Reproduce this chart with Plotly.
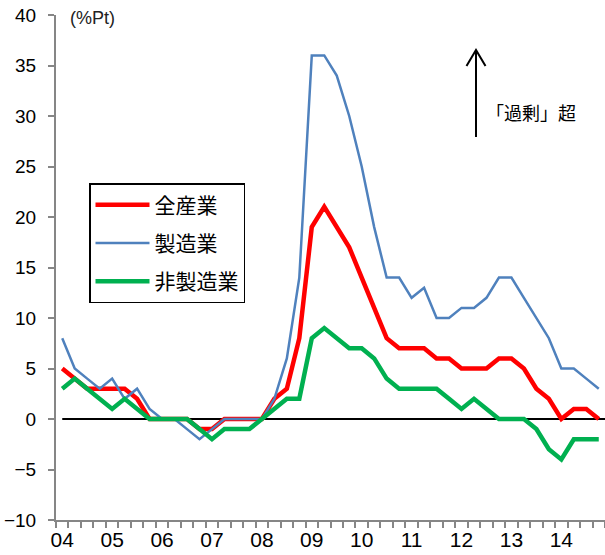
import plotly.graph_objects as go

# Quarterly periods 2004Q1 .. 2014Q4
quarters = [f"{y}Q{q}" for y in range(2004, 2015) for q in range(1, 5)]
year_labels = [f"{y % 100:02d}" if q == 1 else "" for y in range(2004, 2015) for q in range(1, 5)]

# Excess-minus-shortage balance (%Pt)
all_industries = [5, 4, 3, 3, 3, 3, 2, 0, 0, 0, 0, -1, -1, 0, 0, 0, 0, 2, 3, 8,
                  19, 21, 19, 17, 14, 11, 8, 7, 7, 7, 6, 6, 5, 5, 5, 6, 6, 5, 3, 2,
                  0, 1, 1, 0]
manufacturing = [8, 5, 4, 3, 4, 2, 3, 1, 0, 0, -1, -2, -1, 0, 0, 0, 0, 2, 6, 14,
                 36, 36, 34, 30, 25, 19, 14, 14, 12, 13, 10, 10, 11, 11, 12, 14, 14, 12, 10, 8,
                 5, 5, 4, 3]
non_manufacturing = [3, 4, 3, 2, 1, 2, 1, 0, 0, 0, 0, -1, -2, -1, -1, -1, 0, 1, 2, 2,
                     8, 9, 8, 7, 7, 6, 4, 3, 3, 3, 3, 2, 1, 2, 1, 0, 0, 0, -1, -3,
                     -4, -2, -2, -2]

series_names = ["全産業", "製造業", "非製造業"]
series_colors = ["#FF0000", "#4F81BD", "#00B050"]
series_widths = [4.5, 2.5, 4.5]

JP_FONT = "Noto Sans CJK JP"
AXIS_GRAY = "#868686"

# plot area in pixels: left 56, right 605, top 15, bottom 520
L, R, T, B = 56, 605, 15, 520
def px(pix):
    return (pix - L) / (R - L)
def py(pix):
    return (B - pix) / (B - T)

fig = go.Figure()
for name, values, color, width in zip(series_names,
                                      [all_industries, manufacturing, non_manufacturing],
                                      series_colors, series_widths):
    fig.add_trace(go.Scatter(
        x=quarters, y=values, mode="lines", name=name,
        legendgroup=name,
        line=dict(color=color, width=width),
    ))

# zero reference line
fig.add_shape(type="line", xref="x", yref="y", x0=0, x1=43.5, y0=0, y1=0,
              line=dict(color="black", width=2), layer="below")

# upward arrow with chevron head
ax_x = px(476)
fig.add_shape(type="line", xref="paper", yref="paper",
              x0=ax_x, x1=ax_x, y0=py(137), y1=py(50),
              line=dict(color="black", width=2))
fig.add_shape(type="path", xref="paper", yref="paper",
              path=f"M {px(466.5)} {py(66)} L {ax_x} {py(50)} L {px(485.5)} {py(66)}",
              line=dict(color="black", width=2))

fig.add_annotation(text="「過剰」超", xref="paper", yref="paper",
                   x=px(484), y=py(112), xanchor="left", yanchor="middle",
                   showarrow=False, font=dict(family=JP_FONT, size=18, color="black"))
fig.add_annotation(text="(%Pt)", xref="paper", yref="paper",
                   x=px(68), y=py(18), xanchor="left", yanchor="middle",
                   showarrow=False, font=dict(family="Liberation Sans", size=18, color="#222"))

fig.update_layout(
    width=605, height=555,
    margin=dict(l=L, r=605 - R, t=T, b=555 - B),
    paper_bgcolor="white", plot_bgcolor="white",
    showlegend=True,
    legend=dict(
        x=px(89), y=py(183), xanchor="left", yanchor="top",
        bordercolor="black", borderwidth=1.5, bgcolor="white",
        font=dict(family=JP_FONT, size=21, color="black"),
        traceorder="grouped", tracegroupgap=8, itemwidth=54,
    ),
    xaxis=dict(
        type="category", categoryorder="array", categoryarray=quarters,
        tickmode="array", tickvals=quarters, ticktext=year_labels,
        tickson="boundaries", ticks="outside", ticklen=6, tickcolor=AXIS_GRAY, tickwidth=1.5,
        tickangle=0, automargin=False,
        showline=True, linecolor=AXIS_GRAY, linewidth=2,
        showgrid=False, zeroline=False,
        range=[-0.5, 43.5],
        tickfont=dict(family="Liberation Sans", size=21, color="black"),
    ),
    yaxis=dict(
        range=[-10, 40], dtick=5, tick0=0,
        ticks="outside", ticklen=6, tickcolor=AXIS_GRAY, tickwidth=1.5,
        ticklabelstandoff=8, automargin=False,
        showline=True, linecolor=AXIS_GRAY, linewidth=2,
        showgrid=False, zeroline=False,
        tickfont=dict(family="Liberation Sans", size=19, color="black"),
    ),
)

fig.write_html("out.html")
